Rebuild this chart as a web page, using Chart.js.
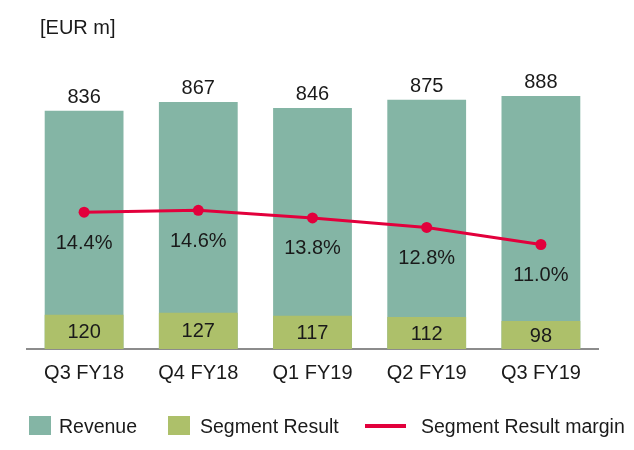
<!DOCTYPE html>
<html>
<head>
<meta charset="utf-8">
<script src="https://cdn.jsdelivr.net/npm/chart.js@4/dist/chart.umd.min.js"></script>
<style>
  html, body { margin: 0; padding: 0; background: #ffffff; }
  body { font-family: "Liberation Sans", Arial, sans-serif; color: #1a1a1a; }
  #wrap { position: relative; width: 634px; height: 450px; overflow: hidden; }
  #c { position: absolute; left: 0; top: 0; }
  .unit { position: absolute; left: 40px; top: 15px; font-size: 20px; line-height: 24px; }
  .leg { position: absolute; }
  .txt { top: 414px; font-size: 19.5px; line-height: 24px; white-space: nowrap; }
  .box { top: 416px; width: 22px; height: 19px; }
  .ln { top: 424px; width: 41px; height: 4px; }
</style>
</head>
<body>
<div id="wrap">
  <canvas id="c" width="634" height="450"></canvas>
  <div class="unit">[EUR m]</div>
  <div class="leg box" style="left:29px;background:#84b5a5"></div>
  <div class="leg txt" style="left:59px">Revenue</div>
  <div class="leg box" style="left:168px;background:#adc06a"></div>
  <div class="leg txt" style="left:200px">Segment Result</div>
  <div class="leg ln" style="left:365px;background:#e2003c"></div>
  <div class="leg txt" style="left:421px">Segment Result margin</div>
</div>
<script>
const categories = ["Q3 FY18", "Q4 FY18", "Q1 FY19", "Q2 FY19", "Q3 FY19"];
const revenue = [836, 867, 846, 875, 888];
const segmentResult = [120, 127, 117, 112, 98];
const segmentMargin = [14.4, 14.6, 13.8, 12.8, 11.0];

const FONT = '"Liberation Sans", Arial, sans-serif';

const labelPlugin = {
  id: 'valueLabels',
  afterDatasetsDraw(chart) {
    const ctx = chart.ctx;
    ctx.save();
    ctx.font = '20px ' + FONT;
    ctx.fillStyle = '#1a1a1a';
    ctx.textAlign = 'center';
    ctx.textBaseline = 'middle';
    chart.data.datasets.forEach((ds, i) => {
      const meta = chart.getDatasetMeta(i);
      meta.data.forEach((el, j) => {
        const v = ds.data[j];
        if (ds.label === 'Revenue') {
          ctx.fillText(String(v), el.x, el.y - 13);
        } else if (ds.label === 'Segment Result') {
          ctx.fillText(String(v), el.x, (el.y + el.base) / 2 + 1);
        } else {
          ctx.fillText(v.toFixed(1) + '%', el.x, el.y + 31);
        }
      });
    });
    ctx.restore();
  }
};

new Chart(document.getElementById('c'), {
  data: {
    labels: categories,
    datasets: [
      {
        type: 'line',
        label: 'Segment Result margin',
        data: segmentMargin,
        yAxisID: 'y2',
        borderColor: '#e2003c',
        backgroundColor: '#e2003c',
        borderWidth: 3,
        pointRadius: 5.5,
        pointBackgroundColor: '#e2003c',
        pointBorderWidth: 0,
        tension: 0,
        order: 0
      },
      {
        type: 'bar',
        label: 'Segment Result',
        data: segmentResult,
        yAxisID: 'y',
        backgroundColor: '#adc06a',
        borderWidth: 0,
        categoryPercentage: 1,
        barPercentage: 0.69,
        order: 1
      },
      {
        type: 'bar',
        label: 'Revenue',
        data: revenue,
        yAxisID: 'y',
        backgroundColor: '#84b5a5',
        borderWidth: 0,
        categoryPercentage: 1,
        barPercentage: 0.69,
        order: 2
      }
    ]
  },
  options: {
    responsive: false,
    animation: false,
    layout: { padding: { left: 27, right: 36, top: 64, bottom: 53 } },
    plugins: {
      legend: { display: false },
      tooltip: { enabled: false },
      title: { display: false }
    },
    scales: {
      x: {
        stacked: true,
        offset: true,
        grid: { display: true, drawOnChartArea: false, drawTicks: false, color: 'rgba(0,0,0,0)' },
        border: { display: true, color: '#8c8c8c', width: 2 },
        ticks: { color: '#1a1a1a', font: { family: FONT, size: 20 }, padding: 12, maxRotation: 0 }
      },
      y: {
        display: false,
        stacked: false,
        min: 0,
        max: 1000
      },
      y2: {
        display: false,
        position: 'right',
        min: 0,
        max: 30
      }
    }
  },
  plugins: [labelPlugin]
});
</script>
</body>
</html>
